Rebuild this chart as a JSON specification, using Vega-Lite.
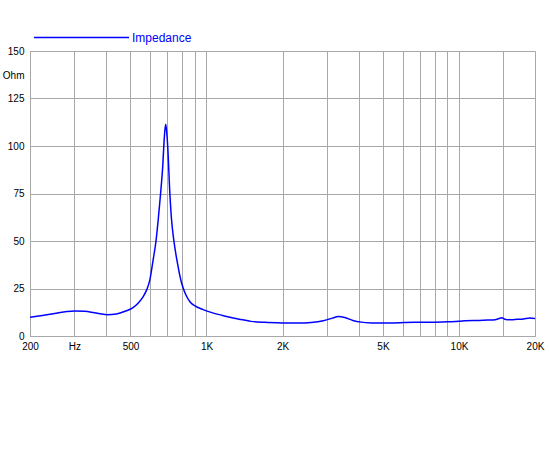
{
  "$schema": "https://vega.github.io/schema/vega-lite/v6.json",
  "autosize": "none",
  "width": 505,
  "height": 285,
  "padding": {"left": 30, "top": 51, "right": 15, "bottom": 114},
  "background": "white",
  "config": {
    "font": "Liberation Sans",
    "view": {"stroke": null},
    "axis": {"gridColor": "#a8a8a8", "gridOpacity": 1, "gridWidth": 1, "domainColor": "#a8a8a8", "ticks": false, "labelColor": "#000000", "labelFontSize": 10, "titleFontWeight": "normal"}
  },
  "data": {
    "values": [
      {"freq": 200, "ohm": 9.8}, {"freq": 220, "ohm": 10.6}, {"freq": 250, "ohm": 11.8},
      {"freq": 280, "ohm": 12.9}, {"freq": 300, "ohm": 13.2}, {"freq": 330, "ohm": 13.0},
      {"freq": 360, "ohm": 12.2}, {"freq": 403, "ohm": 11.2}, {"freq": 440, "ohm": 11.6},
      {"freq": 476, "ohm": 13.0}, {"freq": 510, "ohm": 14.8}, {"freq": 537, "ohm": 17.4},
      {"freq": 560, "ohm": 20.5}, {"freq": 580, "ohm": 24.4}, {"freq": 597, "ohm": 29.7},
      {"freq": 615, "ohm": 40.2}, {"freq": 631, "ohm": 50.0}, {"freq": 644, "ohm": 61.3},
      {"freq": 658, "ohm": 75.0}, {"freq": 671, "ohm": 89.4}, {"freq": 680, "ohm": 103.5},
      {"freq": 689, "ohm": 111.4}, {"freq": 695, "ohm": 108.0}, {"freq": 702, "ohm": 100.0},
      {"freq": 716, "ohm": 75.0}, {"freq": 727, "ohm": 61.3}, {"freq": 743, "ohm": 50.0},
      {"freq": 767, "ohm": 38.5}, {"freq": 797, "ohm": 27.9}, {"freq": 815, "ohm": 24.0},
      {"freq": 834, "ohm": 20.9}, {"freq": 860, "ohm": 18.0}, {"freq": 900, "ohm": 15.8},
      {"freq": 970, "ohm": 13.9}, {"freq": 1050, "ohm": 12.3},
      {"freq": 1200, "ohm": 10.3}, {"freq": 1350, "ohm": 8.8}, {"freq": 1500, "ohm": 7.7},
      {"freq": 1700, "ohm": 7.2}, {"freq": 2000, "ohm": 6.9}, {"freq": 2300, "ohm": 6.8},
      {"freq": 2600, "ohm": 7.1}, {"freq": 2900, "ohm": 8.0}, {"freq": 3150, "ohm": 9.4},
      {"freq": 3330, "ohm": 10.3}, {"freq": 3550, "ohm": 9.6}, {"freq": 3800, "ohm": 8.2},
      {"freq": 4100, "ohm": 7.3}, {"freq": 4500, "ohm": 6.9}, {"freq": 5000, "ohm": 6.8},
      {"freq": 5500, "ohm": 6.9}, {"freq": 6100, "ohm": 7.1}, {"freq": 7000, "ohm": 7.2},
      {"freq": 8000, "ohm": 7.3}, {"freq": 9000, "ohm": 7.5}, {"freq": 10000, "ohm": 7.7},
      {"freq": 10600, "ohm": 8.0}, {"freq": 12000, "ohm": 8.2}, {"freq": 13000, "ohm": 8.4},
      {"freq": 13900, "ohm": 8.6}, {"freq": 14400, "ohm": 9.2}, {"freq": 14750, "ohm": 9.6},
      {"freq": 15300, "ohm": 8.7}, {"freq": 16000, "ohm": 8.6}, {"freq": 17000, "ohm": 8.8},
      {"freq": 18000, "ohm": 9.0}, {"freq": 19100, "ohm": 9.5}, {"freq": 20000, "ohm": 9.2}
    ]
  },
  "mark": {"type": "line", "strokeWidth": 1.5, "clip": true, "interpolate": "monotone"},
  "encoding": {
    "x": {
      "field": "freq",
      "type": "quantitative",
      "scale": {"type": "log", "domain": [200, 20000], "nice": false},
      "axis": {
        "title": null,
        "values": [200, 300, 400, 500, 600, 700, 800, 900, 1000, 2000, 3000, 4000, 5000, 6000, 7000, 8000, 9000, 10000, 15000, 20000],
        "labelExpr": "datum.value == 200 ? '200' : datum.value == 300 ? 'Hz' : datum.value == 500 ? '500' : datum.value == 1000 ? '1K' : datum.value == 2000 ? '2K' : datum.value == 5000 ? '5K' : datum.value == 10000 ? '10K' : datum.value == 20000 ? '20K' : ''",
        "labelOverlap": false,
        "labelFlush": false,
        "labelPadding": 5
      }
    },
    "y": {
      "field": "ohm",
      "type": "quantitative",
      "scale": {"domain": [0, 150], "nice": false},
      "axis": {
        "values": [0, 25, 50, 75, 100, 125, 150],
        "labelPadding": 6,
        "title": "Ohm",
        "titleAngle": 0,
        "titleAlign": "right",
        "titleBaseline": "middle",
        "titleFontSize": 10,
        "titleX": -6,
        "titleY": 24
      }
    },
    "color": {
      "datum": "Impedance",
      "scale": {"range": ["#0000ff"]},
      "legend": {
        "title": null,
        "orient": "none",
        "legendX": 3,
        "legendY": -62,
        "symbolType": "stroke",
        "symbolSize": 9025,
        "symbolStrokeWidth": 1.5,
        "labelColor": "#0000ff",
        "labelFontSize": 12,
        "labelOffset": 2
      }
    }
  }
}
